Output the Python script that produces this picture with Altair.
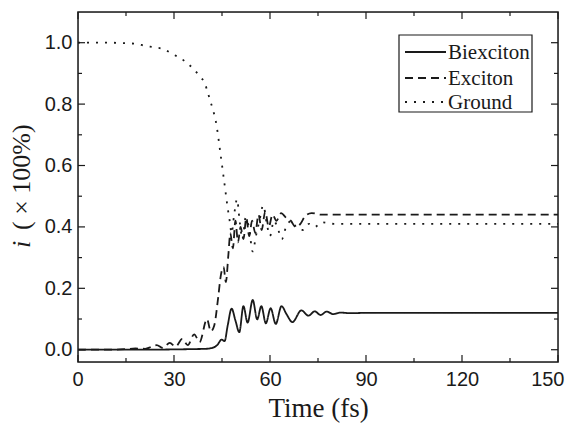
import altair as alt
import pandas as pd

series = ["Biexciton", "Exciton", "Ground"]

time_bi = [0, 10, 20, 30, 36, 40, 42, 43.5, 44.9, 45.8, 46.8, 48.0, 49.2, 50.4, 51.7, 53.0, 54.6,
           56.0, 57.3, 58.7, 60.2, 61.8, 63.6, 65.2, 67.0, 69.8, 72.0, 74.0, 75.8, 77.7, 79.8,
           82, 85, 90, 100, 120, 150]
val_bi = [0, 0, 0, 0.001, 0.002, 0.003, 0.006, 0.015, 0.033, 0.028, 0.08, 0.134, 0.095, 0.057,
          0.142, 0.088, 0.162, 0.099, 0.142, 0.086, 0.135, 0.084, 0.142, 0.115, 0.09, 0.128,
          0.111, 0.125, 0.113, 0.124, 0.116, 0.121, 0.119, 0.12, 0.12, 0.12, 0.12]

time_ex = [0, 10, 15, 18, 21, 23, 24.6, 26.5, 28.7, 30.5, 32.6, 34.3, 36.3, 38, 40.3, 41.5, 42.6,
           43.8, 44.6, 45.5, 46.2, 47.0, 47.6, 48.4, 49.2, 50.0, 50.8, 51.7, 52.6, 53.5, 54.4,
           55.4, 56.4, 57.4, 58.5, 59.6, 60.8, 62.0, 63.5, 65.0, 66.5, 68.0, 69.5, 71.0, 73, 76,
           80, 90, 100, 120, 150]
val_ex = [0, 0, 0.002, 0.004, 0.003, 0.01, 0.015, 0.006, 0.022, 0.01, 0.035, 0.015, 0.05, 0.025,
          0.1, 0.06, 0.08, 0.17, 0.24, 0.27, 0.22, 0.31, 0.38, 0.33, 0.42, 0.35, 0.40, 0.36, 0.43,
          0.37, 0.42, 0.38, 0.44, 0.39, 0.45, 0.40, 0.44, 0.42, 0.445, 0.43, 0.42, 0.40, 0.41,
          0.435, 0.445, 0.44, 0.44, 0.44, 0.44, 0.44, 0.44]

time_gr = [0, 10, 15.6, 18.5, 20.8, 24, 27, 29.5, 32, 34, 36.2, 37.9, 39.7, 40.6, 41.5, 42.4, 43.1,
           43.6, 44, 44.4, 44.8, 45.2, 45.6, 46, 46.4, 46.8, 47.4, 48.0, 48.8, 49.7, 50.5, 51.4,
           52.4, 53.4, 54.6, 55.6, 56.7, 57.9, 59, 60, 61.2, 62.3, 63.7, 65, 66.8, 68.5, 70.4,
           72.2, 74, 76, 80, 90, 100, 120, 150]
val_gr = [1.0, 1.0, 0.998, 0.996, 0.99, 0.985, 0.978, 0.963, 0.95, 0.934, 0.914, 0.892, 0.866,
          0.836, 0.805, 0.773, 0.742, 0.71, 0.68, 0.648, 0.617, 0.586, 0.554, 0.523, 0.49, 0.46,
          0.42, 0.38, 0.44, 0.49, 0.42, 0.36, 0.43, 0.40, 0.32, 0.37, 0.42, 0.47, 0.41, 0.37,
          0.42, 0.40, 0.36, 0.40, 0.42, 0.395, 0.39, 0.41, 0.40, 0.415, 0.41, 0.41, 0.41, 0.41,
          0.41]

x_major = [0, 30, 60, 90, 120, 150]
x_minor = [15, 45, 75, 105, 135]
y_major = [0.0, 0.2, 0.4, 0.6, 0.8, 1.0]
y_minor = [0.1, 0.3, 0.5, 0.7, 0.9]

dashes = {"Biexciton": [1, 0], "Exciton": [8, 5], "Ground": [2, 7]}

rows = []
for name, ts, vs in [("Biexciton", time_bi, val_bi), ("Exciton", time_ex, val_ex),
                     ("Ground", time_gr, val_gr)]:
    for t, v in zip(ts, vs):
        rows.append({"t": t, "v": v, "s": name})
df = pd.DataFrame(rows)

W, H = 480, 350
INK = "#1a1a1a"
xs = alt.Scale(domain=[0, 150], nice=False, zero=False)
ys = alt.Scale(domain=[-0.04, 1.1], nice=False, zero=False)

xaxis = alt.Axis(values=x_major, title="Time (fs)", format="d", ticks=False, domain=False,
                 grid=False, labelFlush=True, labelFlushOffset=6, labelOverlap=False,
                 labelFont="Liberation Sans", labelFontSize=20, labelColor=INK,
                 labelPadding=7, titleFont="Liberation Serif", titleFontSize=27,
                 titleFontWeight="normal", titleColor=INK, titlePadding=6)
yaxis = alt.Axis(values=y_major, title=None, format=".1f", ticks=False, domain=False, grid=False,
                 labelFlush=False, labelOverlap=False,
                 labelFont="Liberation Sans", labelFontSize=20, labelColor=INK, labelPadding=6)

layers = []
for name in series:
    layers.append(
        alt.Chart(df[df["s"] == name]).mark_line(
            interpolate="monotone", strokeWidth=1.8, color=INK, strokeDash=dashes[name]
        ).encode(
            x=alt.X("t:Q", scale=xs, axis=xaxis, title="Time (fs)"),
            y=alt.Y("v:Q", scale=ys, axis=yaxis, title=None),
        )
    )


def tick_layer(vals, orient, length):
    d = pd.DataFrame({"t": vals, "v": vals})
    base = alt.Chart(d).mark_rule(color=INK, strokeWidth=1.2)
    if orient == "bottom":
        return base.encode(x=alt.X("t:Q", scale=xs, axis=xaxis, title="Time (fs)"),
                           y=alt.value(H), y2=alt.value(H - length))
    if orient == "top":
        return base.encode(x=alt.X("t:Q", scale=xs, axis=xaxis, title="Time (fs)"),
                           y=alt.value(0), y2=alt.value(length))
    if orient == "left":
        return base.encode(y=alt.Y("v:Q", scale=ys, axis=yaxis, title=None),
                           x=alt.value(0), x2=alt.value(length))
    return base.encode(y=alt.Y("v:Q", scale=ys, axis=yaxis, title=None),
                       x=alt.value(W), x2=alt.value(W - length))


for o in ["bottom", "top"]:
    layers.append(tick_layer(x_major, o, 7))
    layers.append(tick_layer(x_minor, o, 4))
for o in ["left", "right"]:
    layers.append(tick_layer(y_major, o, 7))
    layers.append(tick_layer(y_minor, o, 4))

one = pd.DataFrame({"a": [1]})

# plot frame
frame = alt.Chart(one).mark_rect(fill=None, stroke=INK, strokeWidth=1.5).encode(
    x=alt.value(0), x2=alt.value(W), y=alt.value(0), y2=alt.value(H))
layers.append(frame)

# legend box
LX0, LX1, LY0, LY1 = 321, 454, 23, 100
layers.append(alt.Chart(one).mark_rect(fill="white", stroke=INK, strokeWidth=1.2).encode(
    x=alt.value(LX0), x2=alt.value(LX1), y=alt.value(LY0), y2=alt.value(LY1)))
row_y = [40, 66, 90]
for name, ry in zip(series, row_y):
    layers.append(alt.Chart(one).mark_rule(color=INK, strokeWidth=1.8,
                                           strokeDash=dashes[name]).encode(
        x=alt.value(327), x2=alt.value(368), y=alt.value(ry)))
    layers.append(alt.Chart(one).mark_text(
        text=name, font="Liberation Serif", fontSize=21, align="left", baseline="middle",
        color=INK).encode(x=alt.value(370), y=alt.value(ry + 1)))

# y title with italic i
layers.append(alt.Chart(one).mark_text(
    text="i", font="Liberation Serif", fontStyle="italic", fontSize=26, angle=270,
    align="left", baseline="middle", color=INK).encode(x=alt.value(-56), y=alt.value(236)))
layers.append(alt.Chart(one).mark_text(
    text="( \u00d7 100%)", font="Liberation Serif", fontSize=26, angle=270,
    align="left", baseline="middle", color=INK).encode(x=alt.value(-56), y=alt.value(218)))

chart = alt.layer(*layers).properties(
    width=W, height=H, autosize=alt.AutoSizeParams(type="none"),
    padding={"left": 70, "top": 4, "right": 11, "bottom": 62},
).configure_view(strokeWidth=0).configure(background="white")

chart.save("out.html", embed_options={"renderer": "svg", "actions": False})
